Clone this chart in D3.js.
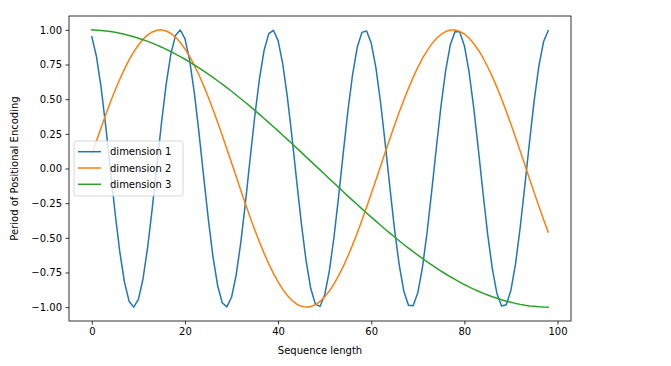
<!DOCTYPE html>
<html>
<head>
<meta charset="utf-8">
<script src="https://cdn.jsdelivr.net/npm/d3@7"></script>
<style>
	body{margin:0;background:#fff;}
	svg text{font-family:"DejaVu Sans",sans-serif;font-size:10px;fill:#000;}
</style>
</head>
<body>
<div id="chart"></div>
<script>
// values, one per sequence position 0..98
var dim1=[0.950,0.807,0.583,0.301,-0.010,-0.321,-0.599,-0.818,-0.957,-1.000,
	-0.944,-0.795,-0.566,-0.281,0.031,0.341,0.616,0.830,0.962,0.999,
	0.937,0.782,0.549,0.261,-0.052,-0.360,-0.632,-0.842,-0.968,-0.998,
	-0.929,-0.768,-0.531,-0.242,0.072,0.379,0.647,0.853,0.973,0.997,
	0.922,0.755,0.513,0.222,-0.093,-0.398,-0.662,-0.864,-0.978,-0.995,
	-0.913,-0.740,-0.496,-0.201,0.114,0.417,0.678,0.875,0.982,0.992,
	0.905,0.727,0.478,0.181,-0.134,-0.437,-0.693,-0.885,-0.986,-0.990,
	-0.897,-0.714,-0.460,-0.160,0.155,0.456,0.709,0.895,0.989,0.986,
	0.886,0.698,0.441,0.140,-0.175,-0.473,-0.722,-0.903,-0.992,-0.983,
	-0.878,-0.686,-0.422,-0.120,0.195,0.492,0.738,0.914,0.994]
var dim2=[0.100,0.199,0.296,0.389,0.479,0.565,0.644,0.717,0.783,0.841,
	0.891,0.932,0.964,0.985,0.997,1.000,0.992,0.974,0.946,0.909,
	0.863,0.808,0.746,0.676,0.598,0.516,0.427,0.335,0.239,0.141,
	0.042,-0.058,-0.158,-0.256,-0.351,-0.443,-0.530,-0.612,-0.688,-0.757,
	-0.818,-0.872,-0.916,-0.952,-0.978,-0.994,-1.000,-0.996,-0.983,-0.959,
	-0.926,-0.884,-0.832,-0.773,-0.706,-0.631,-0.551,-0.465,-0.374,-0.279,
	-0.182,-0.083,0.017,0.117,0.215,0.312,0.405,0.494,0.578,0.657,
	0.729,0.794,0.850,0.899,0.938,0.968,0.988,0.999,0.999,0.989,
	0.970,0.941,0.902,0.855,0.799,0.734,0.663,0.585,0.501,0.412,
	0.319,0.223,0.125,0.025,-0.075,-0.174,-0.272,-0.367,-0.458]
var dim3=[1.000,0.998,0.996,0.992,0.988,0.982,0.976,0.968,0.960,0.950,
	0.940,0.929,0.917,0.904,0.890,0.875,0.859,0.842,0.825,0.807,
	0.788,0.768,0.747,0.726,0.704,0.681,0.657,0.633,0.608,0.583,
	0.557,0.530,0.503,0.476,0.448,0.419,0.390,0.361,0.331,0.301,
	0.271,0.240,0.210,0.178,0.147,0.116,0.084,0.053,0.021,-0.010,
	-0.042,-0.074,-0.105,-0.136,-0.168,-0.199,-0.230,-0.260,-0.291,-0.321,
	-0.351,-0.380,-0.409,-0.438,-0.466,-0.494,-0.521,-0.548,-0.574,-0.599,
	-0.625,-0.649,-0.673,-0.696,-0.718,-0.740,-0.761,-0.781,-0.800,-0.819,
	-0.837,-0.854,-0.870,-0.885,-0.899,-0.912,-0.925,-0.936,-0.947,-0.957,
	-0.965,-0.973,-0.980,-0.986,-0.991,-0.994,-0.997,-0.999,-1.000]
var seriesNames=['dimension 1','dimension 2','dimension 3']
var seriesColors=['#1f77b4','#ff7f0e','#2ca02c']
var xTicks=[0,20,40,60,80,100]
var yTicks=[-1.00,-0.75,-0.50,-0.25,0.00,0.25,0.50,0.75,1.00]

var W=671, H=366,
	box={left:69, top:16, right:571, bottom:321}

var svg=d3.select('#chart').append('svg')
	.attr('width', W).attr('height', H)

var x=d3.scaleLinear().domain([-4.9, 102.9]).range([box.left, box.right])
var y=d3.scaleLinear().domain([-1.1, 1.1]).range([box.bottom, box.top])

// axes, matplotlib style ticks
svg.append('g')
	.attr('transform', 'translate(0,'+box.bottom+')')
	.call(d3.axisBottom(x).tickValues(xTicks).tickFormat(d3.format('d')).tickSize(3.5).tickPadding(3.5).tickSizeOuter(0))
svg.append('g')
	.attr('transform', 'translate('+box.left+',0)')
	.call(d3.axisLeft(y).tickValues(yTicks).tickFormat(d3.format('.2f')).tickSize(3.5).tickPadding(3.5).tickSizeOuter(0))
svg.selectAll('.domain').remove()
svg.selectAll('.tick line').attr('stroke', '#000').attr('stroke-width', 0.8)
svg.selectAll('.tick text').attr('font-family', null).attr('font-size', null).attr('fill', null)

// lines
var series=[dim1, dim2, dim3]
var line=d3.line()
	.x(function(d, i){ return x(i) })
	.y(function(d){ return y(d) })
var plot=svg.append('g')
series.forEach(function(s, k){
	plot.append('path')
		.datum(s)
		.attr('fill', 'none')
		.attr('stroke', seriesColors[k])
		.attr('stroke-width', 1.5)
		.attr('stroke-linejoin', 'round')
		.attr('stroke-linecap', 'square')
		.attr('d', line)
})

// frame
svg.append('rect')
	.attr('x', box.left).attr('y', box.top)
	.attr('width', box.right-box.left).attr('height', box.bottom-box.top)
	.attr('fill', 'none').attr('stroke', '#000').attr('stroke-width', 0.8)

// labels
svg.append('text')
	.attr('x', (box.left+box.right)/2).attr('y', 354)
	.attr('text-anchor', 'middle')
	.text('Sequence length')
svg.append('text')
	.attr('transform', 'translate(17.5,'+((box.top+box.bottom)/2)+') rotate(-90)')
	.attr('text-anchor', 'middle')
	.text('Period of Positional Encoding')

// legend
var legend=svg.append('g').attr('transform', 'translate(74,141)')
legend.append('rect')
	.attr('width', 109).attr('height', 55).attr('rx', 2.5)
	.attr('fill', '#fff').attr('fill-opacity', 0.8)
	.attr('stroke', '#ccc').attr('stroke-width', 0.8)
seriesNames.forEach(function(name, k){
	var ly=10.7+k*16.3
	legend.append('line')
		.attr('x1', 4).attr('x2', 27).attr('y1', ly).attr('y2', ly)
		.attr('stroke', seriesColors[k]).attr('stroke-width', 1.5)
	legend.append('text')
		.attr('x', 36).attr('y', ly).attr('dy', '0.35em')
		.text(name)
})
</script>
</body>
</html>
